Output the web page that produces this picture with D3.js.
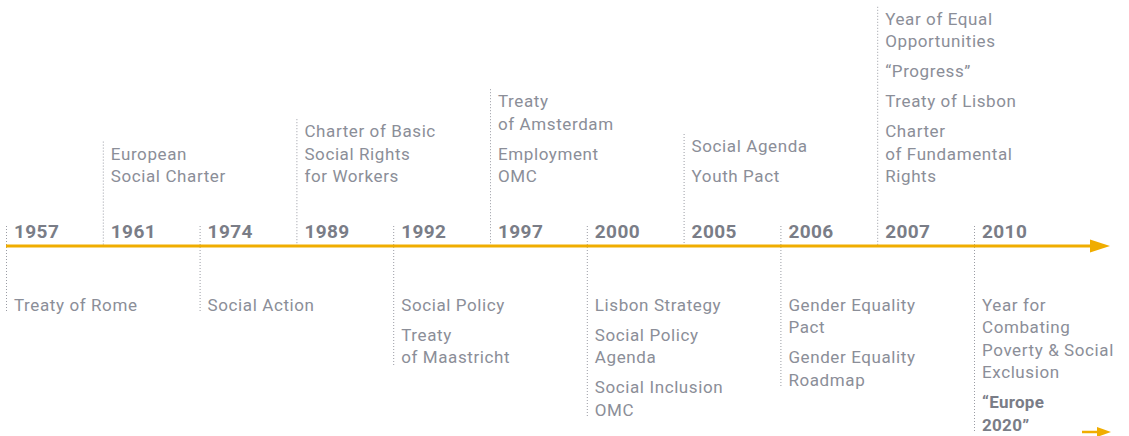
<!doctype html>
<html>
<head>
  <meta charset="utf8"/>
  <style>
    body { margin: 0; background: #fff; }
    .event { font-family: Roboto, sans-serif; font-size: 17px; fill: #8b8e98; letter-spacing: 0.6px; }
    .event.strong { font-weight: 700; fill: #7a7d87; letter-spacing: 0.3px; }
    .year { font-family: Roboto, sans-serif; font-size: 19px; font-weight: 700; fill: #7a7d87; letter-spacing: 0.4px; }
    .stem { stroke: #9a9ca4; stroke-width: 1; stroke-dasharray: 1,2; }
  </style>
</head>
<body>
  <svg width='1129' height='436'></svg>
  <script src="https://d3js.org/d3.v7.min.js"></script>
  <script>

    var years = ['1957', '1961', '1974', '1989', '1992', '1997',
                 '2000', '2005', '2006', '2007', '2010'];

    // events above the axis: per year a list of groups, each group a list of lines
    var topEvents = {
      '1961': [['European', 'Social Charter']],
      '1989': [['Charter of Basic', 'Social Rights', 'for Workers']],
      '1997': [['Treaty', 'of Amsterdam'], ['Employment', 'OMC']],
      '2005': [['Social Agenda'], ['Youth Pact']],
      '2007': [['Year of Equal', 'Opportunities'], ['\u201cProgress\u201d'],
               ['Treaty of Lisbon'], ['Charter', 'of Fundamental', 'Rights']]
    };

    // events below the axis
    var bottomEvents = {
      '1957': [['Treaty of Rome']],
      '1974': [['Social Action']],
      '1992': [['Social Policy'], ['Treaty', 'of Maastricht']],
      '2000': [['Lisbon Strategy'], ['Social Policy', 'Agenda'],
               ['Social Inclusion', 'OMC']],
      '2006': [['Gender Equality', 'Pact'], ['Gender Equality', 'Roadmap']],
      '2010': [['Year for', 'Combating', 'Poverty & Social', 'Exclusion'],
               ['\u201cEurope', '2020\u201d']]
    };
    var strongGroups = {'2010': [1]};

    var svg = d3.select('svg'),
        axisY = 246,
        lineStep = 22.4,
        groupStep = 30,
        topBase = 182,
        bottomBase = 311,
        yearBase = 238,
        pad = 8;

    var orange = '#f0ad00';

    var x = d3.scalePoint()
              .domain(years)
              .range([6, 974]);

    // turn groups into positioned lines
    function layout(groups, dir, base) {
      var out = [], y = base;
      var flat = [];
      groups.forEach(function(g, gi) {
        g.forEach(function(t) { flat.push({text: t, group: gi}); });
      });
      if (dir < 0) flat.reverse();
      flat.forEach(function(d, i) {
        if (i > 0) {
          var prev = flat[i - 1];
          y += dir * (prev.group !== d.group ? groupStep : lineStep);
        }
        out.push({text: d.text, group: d.group, y: y});
      });
      return out;
    }

    var col = svg.selectAll('.col')
      .data(years)
      .enter().append('g')
        .attr('class', 'col')
        .attr('transform', function(d) { return 'translate(' + x(d) + ',0)'; });

    // dotted stems
    col.append('line')
      .attr('class', 'stem')
      .attr('x1', 0.5).attr('x2', 0.5)
      .attr('y1', function(d) {
        if (topEvents[d]) {
          var l = layout(topEvents[d], -1, topBase);
          return d3.min(l, function(e) { return e.y; }) - 18;
        }
        return axisY - 20;
      })
      .attr('y2', function(d) {
        if (bottomEvents[d]) {
          var l = layout(bottomEvents[d], 1, bottomBase);
          return d3.max(l, function(e) { return e.y; }) + 2;
        }
        return axisY;
      });

    col.append('text')
      .attr('class', 'year')
      .attr('x', pad)
      .attr('y', yearBase)
      .text(function(d) { return d; });

    col.each(function(yr) {
      var g = d3.select(this);
      if (topEvents[yr]) {
        g.selectAll('.top')
          .data(layout(topEvents[yr], -1, topBase))
          .enter().append('text')
            .attr('class', 'event top')
            .attr('x', pad)
            .attr('y', function(d) { return d.y; })
            .text(function(d) { return d.text; });
      }
      if (bottomEvents[yr]) {
        var strong = strongGroups[yr] || [];
        g.selectAll('.bottom')
          .data(layout(bottomEvents[yr], 1, bottomBase))
          .enter().append('text')
            .attr('class', function(d) {
              return 'event bottom' + (strong.indexOf(d.group) >= 0 ? ' strong' : '');
            })
            .attr('x', pad)
            .attr('y', function(d) { return d.y; })
            .text(function(d) { return d.text; });
      }
    });

    // main axis arrow
    svg.append('line')
      .attr('x1', x(years[0])).attr('x2', 1093)
      .attr('y1', axisY).attr('y2', axisY)
      .attr('stroke', orange)
      .attr('stroke-width', 3);
    svg.append('path')
      .attr('d', 'M1090,' + (axisY - 6.5) + 'L1110,' + axisY + 'L1090,' + (axisY + 6.5) + 'Z')
      .attr('fill', orange);

    // small continuation arrow
    var smallY = 432;
    svg.append('line')
      .attr('x1', 1082).attr('x2', 1100)
      .attr('y1', smallY).attr('y2', smallY)
      .attr('stroke', orange)
      .attr('stroke-width', 2.5);
    svg.append('path')
      .attr('d', 'M1097,' + (smallY - 5) + 'L1111,' + smallY + 'L1097,' + (smallY + 5) + 'Z')
      .attr('fill', orange);

  </script>
</body>
</html>
